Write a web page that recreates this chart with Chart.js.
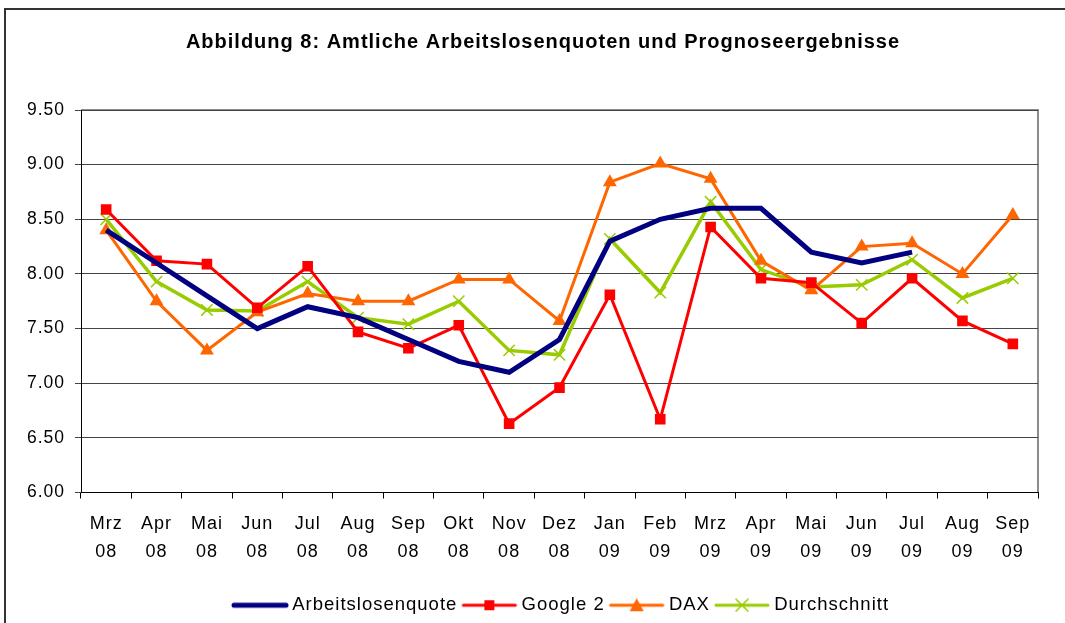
<!DOCTYPE html>
<html>
<head>
<meta charset="utf-8">
<script src="https://cdn.jsdelivr.net/npm/chart.js@4.4.0/dist/chart.umd.min.js"></script>
<style>
  html, body { margin: 0; padding: 0; background: #fff; }
  #wrap { width: 1065px; height: 623px; position: relative; }
</style>
</head>
<body>
<div id="wrap"><canvas id="chart" width="1065" height="623"></canvas></div>
<script>
// Daten
const monate = [
  ['Mrz', '08'], ['Apr', '08'], ['Mai', '08'], ['Jun', '08'], ['Jul', '08'], ['Aug', '08'],
  ['Sep', '08'], ['Okt', '08'], ['Nov', '08'], ['Dez', '08'], ['Jan', '09'], ['Feb', '09'],
  ['Mrz', '09'], ['Apr', '09'], ['Mai', '09'], ['Jun', '09'], ['Jul', '09'], ['Aug', '09'], ['Sep', '09']
];
const arbeitslosenquote = [8.4, 8.1, 7.8, 7.5, 7.7, 7.6, 7.4, 7.2, 7.1, 7.4, 8.3, 8.5, 8.6, 8.6, 8.2, 8.1, 8.2, null, null];
const google2 = [8.59, 8.12, 8.09, 7.69, 8.07, 7.47, 7.32, 7.53, 6.63, 6.96, 7.81, 6.67, 8.43, 7.96, 7.92, 7.55, 7.96, 7.57, 7.36];
const dax = [8.40, 7.75, 7.30, 7.65, 7.82, 7.75, 7.75, 7.95, 7.95, 7.57, 8.84, 9.01, 8.87, 8.12, 7.85, 8.25, 8.28, 8.00, 8.54];
const durchschnitt = [8.50, 7.93, 7.67, 7.66, 7.93, 7.60, 7.54, 7.75, 7.30, 7.26, 8.32, 7.83, 8.66, 8.04, 7.88, 7.90, 8.13, 7.78, 7.96];

const FONT = 'Liberation Sans, Arial, sans-serif';

// Legendensymbol: Linie mit Marker
function legendSymbol(color, lw, marker) {
  const c = document.createElement('canvas');
  c.width = 58; c.height = 14;
  const ctx = c.getContext('2d');
  ctx.strokeStyle = color;
  ctx.fillStyle = color;
  ctx.lineWidth = lw;
  ctx.lineCap = 'round';
  ctx.beginPath();
  ctx.moveTo(3, 7); ctx.lineTo(55, 7);
  ctx.stroke();
  if (marker === 'rect') {
    ctx.fillRect(24, 2, 10, 10);
  } else if (marker === 'triangle') {
    ctx.beginPath();
    ctx.moveTo(29, 0); ctx.lineTo(36, 13); ctx.lineTo(22, 13);
    ctx.closePath(); ctx.fill();
  } else if (marker === 'cross') {
    ctx.lineWidth = 1.5;
    ctx.beginPath();
    ctx.moveTo(23, 1); ctx.lineTo(35, 13);
    ctx.moveTo(35, 1); ctx.lineTo(23, 13);
    ctx.stroke();
  }
  return c;
}

const symbole = [
  legendSymbol('#000080', 5, null),
  legendSymbol('#FF0000', 3, 'rect'),
  legendSymbol('#FF6600', 3, 'triangle'),
  legendSymbol('#99CC00', 3, 'cross')
];

// Rahmen, Zeichenabstand, Positionen von Titel und Legende
const rahmen = {
  id: 'rahmen',
  beforeInit(chart) {
    chart.ctx.letterSpacing = '1px';
  },
  afterLayout(chart) {
    const lg = chart.legend;
    const dx = 21;
    const dy = 587 - lg.top;
    lg.left += dx; lg.right += dx;
    lg.top += dy; lg.bottom += dy;
    const tb = chart.titleBlock;
    tb.left += 21; tb.right += 21;
  },
  beforeDraw(chart) {
    const ctx = chart.ctx;
    const a = chart.chartArea;
    ctx.letterSpacing = '1px';
    ctx.save();
    ctx.strokeStyle = '#333';
    ctx.lineWidth = 2;
    ctx.strokeRect(5, 9, 1100, 700);
    ctx.strokeStyle = '#8c8c8c';
    ctx.lineWidth = 2;
    ctx.beginPath();
    ctx.moveTo(a.left, a.top);
    ctx.lineTo(a.right, a.top);
    ctx.lineTo(a.right, a.bottom);
    ctx.stroke();
    ctx.restore();
  }
};

new Chart(document.getElementById('chart'), {
  type: 'line',
  data: {
    labels: monate,
    datasets: [
      {
        label: 'Arbeitslosenquote',
        data: arbeitslosenquote,
        borderColor: '#000080',
        backgroundColor: '#000080',
        borderWidth: 5,
        pointRadius: 0,
        spanGaps: false
      },
      {
        label: 'Google 2',
        data: google2,
        borderColor: '#FF0000',
        backgroundColor: '#FF0000',
        borderWidth: 3,
        pointStyle: 'rect',
        pointRadius: 7.5,
        pointBorderWidth: 0
      },
      {
        label: 'DAX',
        data: dax,
        borderColor: '#FF6600',
        backgroundColor: '#FF6600',
        borderWidth: 3,
        pointStyle: 'triangle',
        pointRadius: 8,
        pointBorderWidth: 0
      },
      {
        label: 'Durchschnitt',
        data: durchschnitt,
        borderColor: '#99CC00',
        backgroundColor: '#99CC00',
        borderWidth: 3.5,
        pointStyle: 'crossRot',
        pointRadius: 8,
        pointBorderWidth: 1.5
      }
    ]
  },
  options: {
    responsive: false,
    animation: false,
    events: [],
    layout: { padding: { left: 6, right: 27, top: 9, bottom: 0 } },
    plugins: {
      title: {
        display: true,
        text: 'Abbildung 8: Amtliche Arbeitslosenquoten und Prognoseergebnisse',
        color: '#000',
        font: { family: FONT, size: 20, weight: 'bold' },
        padding: { top: 21, bottom: 56 }
      },
      legend: {
        position: 'bottom',
        labels: {
          color: '#000',
          font: { family: FONT, size: 18.5 },
          usePointStyle: true,
          pointStyleWidth: 46,
          padding: 9,
          generateLabels(chart) {
            return chart.data.datasets.map((ds, i) => ({
              text: ds.label,
              pointStyle: symbole[i],
              fillStyle: ds.borderColor,
              strokeStyle: ds.borderColor,
              lineWidth: 0,
              datasetIndex: i,
              fontColor: '#000'
            }));
          }
        }
      },
      tooltip: { enabled: false }
    },
    scales: {
      x: {
        offset: true,
        afterFit(scale) { scale.height = 93; },
        grid: {
          offset: true,
          drawOnChartArea: false,
          drawTicks: true,
          tickLength: 6,
          color: '#000'
        },
        border: { color: '#000', width: 1 },
        ticks: {
          color: '#000',
          font: { family: FONT, size: 18, lineHeight: 1.55 },
          maxRotation: 0,
          autoSkip: false,
          padding: 12
        }
      },
      y: {
        min: 6,
        max: 9.5,
        afterFit(scale) { scale.width = 75; },
        grid: {
          color: '#444',
          lineWidth: 1,
          tickLength: 6
        },
        border: { color: '#000', width: 1 },
        ticks: {
          stepSize: 0.5,
          color: '#000',
          font: { family: FONT, size: 17.5 },
          padding: 10,
          callback: v => v.toFixed(2)
        }
      }
    }
  },
  plugins: [rahmen]
});
</script>
</body>
</html>
